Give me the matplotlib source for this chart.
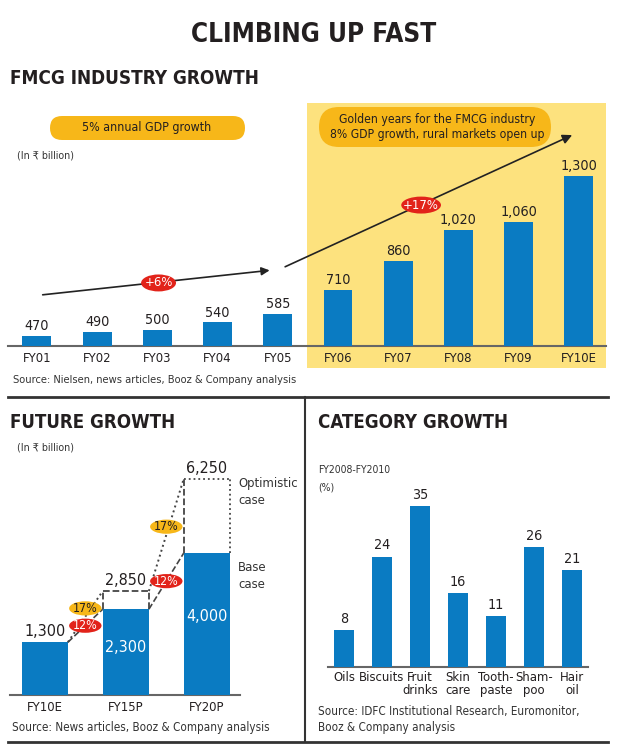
import numpy as np
import matplotlib
matplotlib.use('Agg')
import matplotlib.pyplot as plt
from matplotlib import font_manager
from matplotlib.patches import Rectangle, Ellipse, FancyBboxPatch
from matplotlib.lines import Line2D

# ---- data ----
years = ['FY01', 'FY02', 'FY03', 'FY04', 'FY05', 'FY06', 'FY07', 'FY08', 'FY09', 'FY10E']
sales = [470, 490, 500, 540, 585, 710, 860, 1020, 1060, 1300]

future_years = ['FY10E', 'FY15P', 'FY20P']
base_case = [1300, 2300, 4000]
optimistic_case = [1300, 2850, 6250]
base_rate = ['12%', '12%']
optimistic_rate = ['17%', '17%']

categories = ['Oils', 'Biscuits', 'Fruit\ndrinks', 'Skin\ncare', 'Tooth-\npaste', 'Sham-\npoo', 'Hair\noil']
category_growth = [8, 24, 35, 16, 11, 26, 21]

# ---- style ----
BLUE = '#0a7bc2'
GOLD = '#f7b719'
LIGHT = '#fde27e'
RED = '#e2231a'
DARK = '#231f20'

# look for a narrow face, otherwise a plain Arial-like one
fonts = font_manager.fontManager.ttflist
narrow = [f for f in fonts if 'Narrow' in f.name or 'Condensed' in f.name
          or f.stretch in ('condensed', 'semi-condensed', 'extra-condensed')]
names = {f.name for f in fonts}
stretch = 'normal'
if narrow:
    main_font = narrow[0].name
    stretch = narrow[0].stretch
elif 'Liberation Sans' in names:
    main_font = 'Liberation Sans'
else:
    main_font = 'DejaVu Sans'
plt.rcParams['font.family'] = [main_font, 'DejaVu Sans']
plt.rcParams['font.stretch'] = stretch
plt.rcParams['text.color'] = DARK

W, H = 627, 752

def fx(px):
    return px / W

def fy(py):
    return 1 - py / H

fig = plt.figure(figsize=(W / 100, H / 100), dpi=100)

# shrink every font so the headline keeps its width in the reference
probe = fig.text(0, 0, 'CLIMBING UP FAST', fontsize=22, fontweight='bold')
probe_w = probe.get_window_extent(fig.canvas.get_renderer()).width
probe.remove()
k = min(1.0, 245 / probe_w)

def fs(size):
    return size * k

def hline(x0, x1, y, lw=2):
    fig.add_artist(Line2D([fx(x0), fx(x1)], [fy(y), fy(y)], color='#333333', lw=lw))

def pill(x0, x1, y0, y1, color):
    r = (y1 - y0) / 2
    fig.add_artist(FancyBboxPatch((fx(x0), fy(y1)), fx(x1) - fx(x0), (y1 - y0) / H,
                                  boxstyle='round,pad=0,rounding_size=%f' % (r / W),
                                  mutation_aspect=W / H, fc=color, ec='none',
                                  transform=fig.transFigure))

def clean(ax, size=9.5):
    for s in ['top', 'right', 'left']:
        ax.spines[s].set_visible(False)
    ax.spines['bottom'].set_color('#666666')
    ax.spines['bottom'].set_linewidth(1.5)
    ax.set_yticks([])
    ax.tick_params(axis='x', length=0, pad=4, labelsize=fs(size), labelcolor=DARK)
    ax.patch.set_visible(False)

# ---- titles ----
fig.text(0.5, fy(35), 'CLIMBING UP FAST', ha='center', va='center', fontsize=fs(22), fontweight='bold')
fig.text(fx(10), fy(78), 'FMCG INDUSTRY GROWTH', ha='left', va='center', fontsize=fs(16), fontweight='bold')

# ---- top chart ----
ax1 = fig.add_axes([fx(8), fy(346), fx(606) - fx(8), fy(100) - fy(346)])
x1 = np.arange(len(years))
ax1.bar(x1, sales, width=0.48, color=BLUE, zorder=3)
ax1.set_xlim(-0.48, 9.45)
ax1.set_ylim(418, 1694)
ax1.set_xticks(x1, years)
clean(ax1, 11)
for i, v in enumerate(sales):
    ax1.annotate(f'{v:,}', (i, v), xytext=(0, 2), textcoords='offset points',
                 ha='center', va='bottom', fontsize=fs(12), zorder=4)
ax1.add_patch(Rectangle((4.49, 304), 9.45 - 4.49, 1678 - 304, fc=LIGHT, ec='none',
                        zorder=0, clip_on=False))

ax1.annotate('', xy=(3.91, 812), xytext=(0.05, 682),
             arrowprops=dict(arrowstyle='-|>', color='#222222', lw=1.2, mutation_scale=12))
ax1.annotate('', xy=(8.93, 1518), xytext=(4.08, 823),
             arrowprops=dict(arrowstyle='-|>', color='#222222', lw=1.2, mutation_scale=14))
ax1.add_patch(Ellipse((2.02, 745), 0.58, 88, fc=RED, ec='none', zorder=5))
ax1.text(2.02, 745, '+6%', ha='center', va='center', color='white', fontsize=fs(11), zorder=6)
ax1.add_patch(Ellipse((6.38, 1149), 0.66, 88, fc=RED, ec='none', zorder=5))
ax1.text(6.38, 1149, '+17%', ha='center', va='center', color='white', fontsize=fs(11), zorder=6)

pill(50, 245, 116, 140, GOLD)
fig.text(fx(147), fy(128), '5% annual GDP growth', ha='center', va='center', fontsize=fs(10.5))
pill(319, 551, 107, 147, GOLD)
fig.text(fx(437), fy(127), 'Golden years for the FMCG industry\n8% GDP growth, rural markets open up',
         ha='center', va='center', fontsize=fs(10.3), linespacing=1.25)
fig.text(fx(17), fy(155), '(In \u20b9 billion)', ha='left', va='center', fontsize=fs(9), color='#333333')
fig.text(fx(13), fy(380), 'Source: Nielsen, news articles, Booz & Company analysis',
         ha='left', va='center', fontsize=fs(9.3), color='#333333')

# ---- separators ----
hline(8, 608, 397)
hline(8, 608, 742)
fig.add_artist(Line2D([fx(305), fx(305)], [fy(397), fy(742)], color='#333333', lw=1.5))

# ---- future growth ----
fig.text(fx(10), fy(422), 'FUTURE GROWTH', ha='left', va='center', fontsize=fs(15.8), fontweight='bold')
fig.text(fx(17), fy(447), '(In \u20b9 billion)', ha='left', va='center', fontsize=fs(9), color='#333333')

ax2 = fig.add_axes([fx(10), fy(695), fx(240) - fx(10), fy(440) - fy(695)])
floor2 = -300
w2 = 0.57
x2 = np.arange(len(future_years))
ax2.bar(x2, [v - floor2 for v in base_case], bottom=floor2, width=w2, color=BLUE, zorder=3)
ax2.set_xlim(-0.43, 2.41)
ax2.set_ylim(floor2, 7427)
ax2.set_xticks(x2, future_years)
clean(ax2, 11)

lc = '#444444'
for i in range(len(future_years) - 1):
    xa, xb = i + w2 / 2, i + 1 - w2 / 2
    ax2.plot([xa, xb], [base_case[i], base_case[i + 1]], ls='--', color=lc, lw=1.2, zorder=4)
    ax2.plot([xa, xb], [optimistic_case[i], optimistic_case[i + 1]], ls=':', color=lc, lw=1.4, zorder=4)
    mx = (xa + xb) / 2
    yb = (base_case[i] + base_case[i + 1]) / 2
    yo = (optimistic_case[i] + optimistic_case[i + 1]) / 2 + 250
    ax2.add_patch(Ellipse((mx, yo), 0.4, 430, fc=GOLD, ec='none', zorder=5))
    ax2.text(mx, yo, optimistic_rate[i], ha='center', va='center', fontsize=fs(10.5), zorder=6)
    ax2.add_patch(Ellipse((mx, yb), 0.4, 430, fc=RED, ec='none', zorder=5))
    ax2.text(mx, yb, base_rate[i], ha='center', va='center', fontsize=fs(10.5), color='white', zorder=6)

for i in range(1, len(future_years)):
    xl, xr = i - w2 / 2, i + w2 / 2
    side = '--' if i == 1 else ':'
    ax2.plot([xl, xr], [optimistic_case[i]] * 2, ls=side, color=lc, lw=1.3, zorder=4)
    ax2.plot([xl, xl], [base_case[i], optimistic_case[i]], ls='--', color=lc, lw=1.3, zorder=4)
    ax2.plot([xr, xr], [base_case[i], optimistic_case[i]], ls=side, color=lc, lw=1.3, zorder=4)
    ax2.annotate(f'{optimistic_case[i]:,}', (i, optimistic_case[i]), xytext=(0, 2),
                 textcoords='offset points', ha='center', va='bottom', fontsize=fs(13.5))
    ax2.text(i, floor2 + 0.55 * (base_case[i] - floor2), f'{base_case[i]:,}', ha='center',
             va='center', fontsize=fs(13.5), color='white', zorder=5)
ax2.annotate(f'{base_case[0]:,}', (0, base_case[0]), xytext=(0, 2), textcoords='offset points',
             ha='center', va='bottom', fontsize=fs(13.5))

ax2.text(2 + w2 / 2 + 0.1, optimistic_case[2] + 50, 'Optimistic\ncase', ha='left', va='top',
         fontsize=fs(11), color='#333333', linespacing=1.35, clip_on=False)
ax2.text(2 + w2 / 2 + 0.1, base_case[2] - 250, 'Base\ncase', ha='left', va='top',
         fontsize=fs(11), color='#333333', linespacing=1.35, clip_on=False)
fig.text(fx(12), fy(727), 'Source: News articles, Booz & Company analysis',
         ha='left', va='center', fontsize=fs(9.8), color='#333333')

# ---- category growth ----
fig.text(fx(318), fy(422), 'CATEGORY GROWTH', ha='left', va='center', fontsize=fs(15.8), fontweight='bold')
fig.text(fx(318), fy(470), 'FY2008-FY2010', ha='left', va='center', fontsize=fs(8.8), color='#333333')
fig.text(fx(318), fy(487), '(%)', ha='left', va='center', fontsize=fs(8.8), color='#333333')

ax3 = fig.add_axes([fx(328), fy(667), fx(588) - fx(328), fy(480) - fy(667)])
x3 = np.arange(len(categories))
ax3.bar(x3, category_growth, width=0.55, color=BLUE, zorder=3)
ax3.set_xlim(-0.42, 6.42)
ax3.set_ylim(0, 40.65)
ax3.set_xticks(x3, categories, linespacing=1.0)
clean(ax3, 11)
ax3.tick_params(axis='x', pad=3)
for i, v in enumerate(category_growth):
    ax3.annotate(str(v), (i, v), xytext=(0, 3), textcoords='offset points',
                 ha='center', va='bottom', fontsize=fs(12))
fig.text(fx(318), fy(719), 'Source: IDFC Institutional Research, Euromonitor,\nBooz & Company analysis',
         ha='left', va='center', fontsize=fs(9.8), color='#333333', linespacing=1.3)

fig.savefig('out.png', dpi=100)
